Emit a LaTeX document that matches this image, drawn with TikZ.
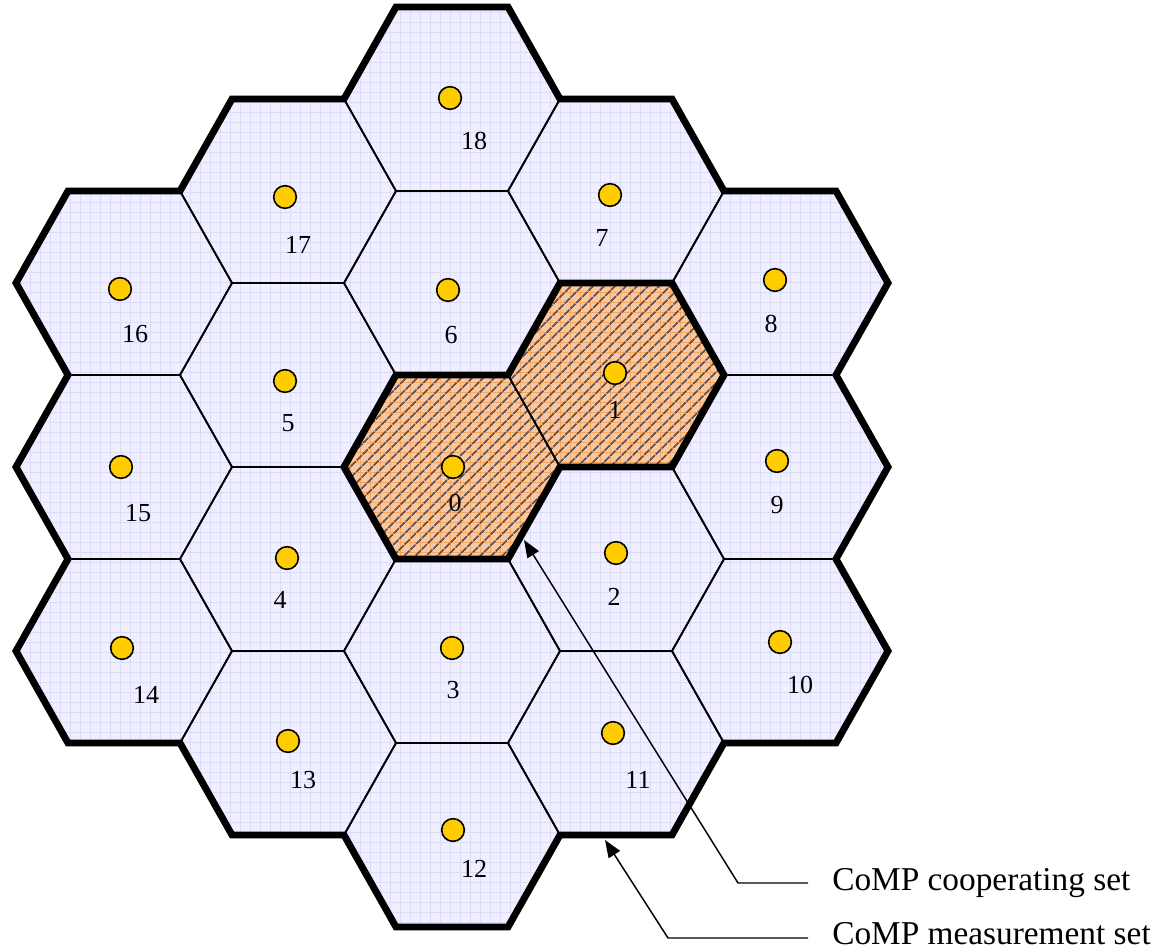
\documentclass[tikz,border=0pt]{standalone}
\usepackage{tikz,xcolor}
\usepackage{fontspec}
\setmainfont{Liberation Serif}
\usetikzlibrary{patterns.meta,arrows.meta}

\definecolor{cellfill}{RGB}{239,239,255}
\definecolor{cellgrid}{RGB}{220,220,248}
\definecolor{coopfill}{RGB}{250,200,160}
\definecolor{coopgrid}{RGB}{246,165,90}
\definecolor{coophatch}{RGB}{95,85,90}
\definecolor{bsfill}{RGB}{255,204,0}

\begin{document}
\begin{tikzpicture}[x={(0.75pt,0)}, y={(0,-0.75pt)},
    cell/.style={fill=cellfill, postaction={pattern={Hatch[distance=7.5pt, line width=0.4pt]}, pattern color=cellgrid}},
    coopcell/.style={fill=coopfill, postaction={pattern={Hatch[distance=7.5pt, line width=0.5pt]}, pattern color=coopgrid},
        postaction={pattern={Lines[angle=45, distance=6.5pt, line width=1.4pt]}, pattern color=coophatch}},
    edge/.style={black, line width=1.3pt},
    border/.style={black, line width=5.2pt, line join=miter},
    bs/.style={circle, draw=black, line width=1.2pt, fill=bsfill, minimum size=17pt, inner sep=0pt},
    cellno/.style={font=\fontsize{19.5}{20}\selectfont, inner sep=0pt},
    setlabel/.style={font=\fontsize{25}{26}\selectfont, anchor=west, inner sep=0pt},
    pointer/.style={black, line width=1.1pt, -{Triangle[length=13pt, width=10pt]}}]

\useasboundingbox (0,0) rectangle (1164,952);

% hexagon path around a centre, 108 px circumradius
\def\hexpath{++(108,0) -- ++(-52,-92) -- ++(-112,0) -- ++(-52,92) -- ++(52,92) -- ++(112,0) -- cycle}

% ── CELLS ───────────────────────────────────────────────────────────
\foreach \c/\r in {1/1, 0/2, -1/1, -1/-1, 0/-2, 1/-3, 2/-2, 2/0, 2/2, 1/3, 0/4, -1/3, -2/2, -2/0, -2/-2, -1/-3, 0/-4} {
    \path[cell] (452+164*\c, 467+92*\r) \hexpath;
}

% Cooperating cells 0 and 1
\foreach \c/\r in {0/0, 1/-1} {
    \path[coopcell] (452+164*\c, 467+92*\r) \hexpath;
}

% Inner edges
\foreach \c/\r in {0/0, 1/-1, 1/1, 0/2, -1/1, -1/-1, 0/-2, 1/-3, 2/-2, 2/0, 2/2, 1/3, 0/4, -1/3, -2/2, -2/0, -2/-2, -1/-3, 0/-4} {
    \draw[edge] (452+164*\c, 467+92*\r) \hexpath;
}

% Measurement set border
\draw[border] (396,7) -- (508,7) -- (560,99) -- (672,99) -- (724,191) -- (836,191)
    -- (888,283) -- (836,375) -- (888,467) -- (836,559) -- (888,651) -- (836,743)
    -- (724,743) -- (672,835) -- (560,835) -- (508,927) -- (396,927) -- (344,835)
    -- (232,835) -- (180,743) -- (68,743) -- (16,651) -- (68,559) -- (16,467)
    -- (68,375) -- (16,283) -- (68,191) -- (180,191) -- (232,99) -- (344,99) -- cycle;

% Cooperating set border
\draw[border] (344,467) -- (396,375) -- (508,375) -- (560,283) -- (672,283) -- (724,375)
    -- (672,467) -- (560,467) -- (508,559) -- (396,559) -- cycle;

% ── BASE STATIONS ───────────────────────────────────────────────────
\foreach \n/\bx/\by/\lx/\ly in {0/453/467/455/503, 1/615/373/615/410, 2/616/553/614/597,
    3/452/648/453/690, 4/287/558/280/600, 5/285/381/288/423, 6/448/290/451/335,
    7/610/195/602/238, 8/775/280/771/324, 9/777/461/777/505, 10/780/642/800/685,
    11/613/733/638/780, 12/453/830/474/869, 13/288/741/303/780, 14/122/648/146/695,
    15/121/467/138/513, 16/120/289/135/334, 17/285/197/298/245, 18/450/98/474/141} {
    \node[bs] (bs\n) at (\bx,\by) {};
    \node[cellno] (no\n) at (\lx,\ly) {\n};
}

% ── CALLOUTS ────────────────────────────────────────────────────────
\node[setlabel] (coop) at (832,883) {CoMP cooperating set};
\node[setlabel] (meas) at (832,934) {CoMP measurement set};

\coordinate (coopbend) at (738,883);
\coordinate (cooptip) at (524,540);
\coordinate (measbend) at (668,938);
\coordinate (meastip) at (605,840);

\draw[pointer] ([xshift=-18pt]coop.west) -- (coopbend) -- (cooptip);
\draw[pointer] ([xshift=-18pt,yshift=-3pt]meas.west) -- (measbend) -- (meastip);

\end{tikzpicture}
\end{document}
